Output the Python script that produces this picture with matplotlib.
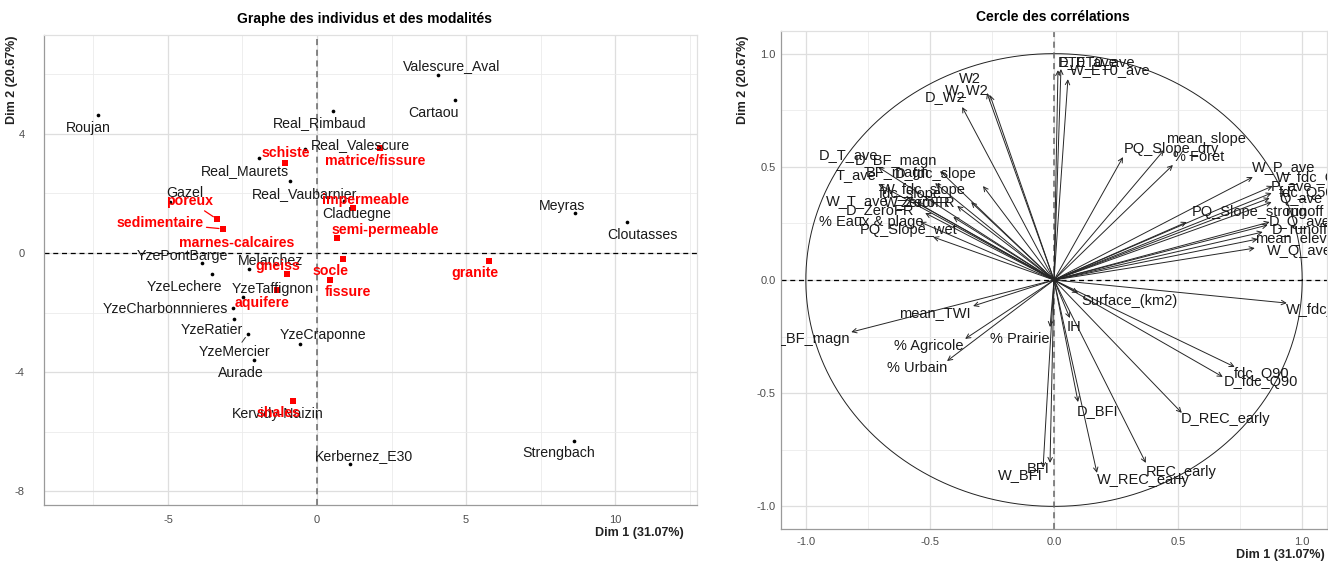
import numpy as np
import matplotlib.pyplot as plt

plt.rcParams['font.family'] = ['Liberation Sans', 'DejaVu Sans']
plt.rcParams['axes.unicode_minus'] = False

# --- individus (bassins) ---
ind_names = ['Roujan', 'Real_Rimbaud', 'Valescure_Aval', 'Cartaou', 'Real_Valescure',
             'Real_Maurets', 'Real_Vaubarnier', 'Gazel', 'Claduegne', 'Meyras',
             'Cloutasses', 'YzePontBarge', 'YzeLechere', 'Melarchez', 'YzeTaffignon',
             'YzeCharbonnnieres', 'YzeRatier', 'YzeMercier', 'Aurade', 'YzeCraponne',
             'Kervidy-Naizin', 'Kerbernez_E30', 'Strengbach']
ind_dim1 = [-7.35, 0.54, 4.06, 4.63, -0.40, -1.95, -0.91, -4.93, 0.91, 8.66,
            10.40, -3.86, -3.52, -2.28, -2.48, -2.82, -2.79, -2.32, -2.11, -0.57,
            -0.81, 1.11, 8.62]
ind_dim2 = [4.63, 4.77, 5.97, 5.13, 3.49, 3.19, 2.42, 1.71, 1.74, 1.34,
            1.04, -0.34, -0.70, -0.54, -1.48, -1.85, -2.21, -2.72, -3.59, -3.05,
            -4.97, -7.08, -6.31]

# --- modalites (variables qualitatives) ---
mod_names = ['schiste', 'matrice/fissure', 'poreux', 'sedimentaire', 'marnes-calcaires',
             'impermeable', 'semi-permeable', 'gneiss', 'aquifere', 'socle',
             'fissure', 'granite', 'shales']
mod_dim1 = [-1.07, 2.11, -3.36, -3.15, -3.15, 1.21, 0.67, -1.01, -1.34, 0.87,
            0.44, 5.77, -0.81]
mod_dim2 = [3.02, 3.52, 1.14, 0.81, 0.81, 1.51, 0.50, -0.70, -1.24, -0.20,
            -0.91, -0.27, -4.97]

# --- variables quantitatives (cercle) ---
var_names = ['ET0_ave', 'D_ET0_ave', 'W_ET0_ave', 'W2', 'W_W2', 'D_W2',
             'D_T_ave', 'T_ave', 'D_BF_magn', 'BF_magn', 'D_fdc_slope', 'W_fdc_slope',
             'fdc_slope', 'W_T_ave', 'ZeroFR', 'D_ZeroFR', 'W_ZeroFR', '% Eaux & plage',
             'PQ_Slope_wet', 'W_BF_magn', 'mean_TWI', '% Agricole', '% Urbain', '% Prairie',
             'BFI', 'W_BFI', 'IH', 'D_BFI', 'Surface_(km2)', 'W_fdc_Q90',
             'fdc_Q90', 'D_fdc_Q90', 'D_REC_early', 'REC_early', 'W_REC_early',
             'PQ_Slope_dry', 'mean_slope', '% Foret', 'W_P_ave', 'W_fdc_Q50',
             'P_ave', 'fdc_Q50', 'Q_ave', 'PQ_Slope_strong', 'runoff',
             'D_Q_ave', 'D_runoff', 'mean_elevation', 'W_Q_ave']
var_dim1 = [0.016, 0.028, 0.056, -0.270, -0.258, -0.370,
            -0.708, -0.708, -0.459, -0.479, -0.286, -0.334,
            -0.390, -0.592, -0.551, -0.519, -0.406, -0.539,
            -0.487, -0.817, -0.326, -0.358, -0.431, -0.016,
            -0.016, -0.044, 0.064, 0.097, 0.097, 0.938,
            0.728, 0.680, 0.515, 0.370, 0.173,
            0.278, 0.443, 0.479, 0.801, 0.881,
            0.877, 0.869, 0.877, 0.535, 0.869,
            0.861, 0.841, 0.821, 0.809]
var_dim2 = [0.927, 0.932, 0.887, 0.826, 0.817, 0.764,
            0.499, 0.424, 0.481, 0.428, 0.415, 0.344,
            0.327, 0.366, 0.340, 0.296, 0.278, 0.256,
            0.190, -0.230, -0.115, -0.260, -0.358, -0.208,
            -0.808, -0.830, -0.168, -0.539, -0.057, -0.102,
            -0.384, -0.428, -0.587, -0.808, -0.852,
            0.543, 0.574, 0.508, 0.455, 0.415,
            0.384, 0.362, 0.344, 0.256, 0.256,
            0.243, 0.212, 0.181, 0.141]

# decalage des etiquettes (pixels), facon ggrepel
ind_off = [(-10, -13), (-13, -12), (14, 9), (-21, -13), (55, 4),
           (-14, -13), (15, -13), (15, 9), (13, -13), (-13, 7),
           (15, -13), (-20, 7), (-28, -13), (22, 8), (30, 8),
           (-68, -1), (-22, -11), (-13, -18), (-13, -13), (23, 9),
           (-15, -13), (14, 8), (-15, -12)]
mod_off = [(1, 10), (-5, -13), (-27, 18), (-63, 6), (14, -14),
           (12, 8), (48, 8), (-9, 8), (-15, -13), (-12, -12),
           (18, -12), (-14, -12), (-14, -12)]
var_off = [(30, 8), (36, 7), (42, 9), (-17, 14), (-23, 5), (-17, 10),
           (-30, 12), (-22, 9), (-44, 10), (-38, 10), (-47, 12), (-48, 12),
           (-47, 12), (-50, -4), (8, 0), (-45, 3), (-33, 15), (-49, 0),
           (-25, 7), (-44, -7), (-38, -7), (-36, -7), (-30, -7), (-30, -12),
           (-12, -6), (-23, -7), (4, -9), (19, -9), (51, -8), (38, -7),
           (27, -7), (38, -5), (44, -6), (35, -9), (46, -7),
           (48, 8), (42, 11), (26, 8), (31, 10), (42, 8),
           (20, 7), (37, 5), (29, 3), (63, 10), (35, 10),
           (32, 3), (37, 3), (49, 1), (45, -3)]
with_segment = ['poreux', 'sedimentaire', 'YzeMercier']

W, H = 1328, 564
fig = plt.figure(figsize=(W / 100, H / 100), dpi=100)
grid_col = '#dedede'
tick_col = '#4d4d4d'


def style_axes(ax):
    for s in ['top', 'right']:
        ax.spines[s].set_color('#e0e0e0')
    for s in ['left', 'bottom']:
        ax.spines[s].set_color('#9a9a9a')
    for s in ax.spines.values():
        s.set_linewidth(0.9)
    ax.grid(which='major', color=grid_col, lw=0.9)
    ax.grid(which='minor', color='#ebebeb', lw=0.6)
    ax.set_axisbelow(True)
    ax.tick_params(which='both', length=0, labelsize=8, labelcolor=tick_col)


# ---------------- Graphe des individus ----------------
ax1 = fig.add_axes([44 / W, 1 - 505 / H, 653 / W, 470 / H])
ax1.set_xlim(-9.16, 12.75)
ax1.set_ylim(-8.46, 7.32)
ax1.set_xticks([-5, 0, 5, 10])
ax1.set_yticks([-8, -4, 0, 4])
ax1.set_xticks(np.arange(-7.5, 12.6, 2.5), minor=True)
ax1.set_yticks(np.arange(-8, 7.1, 2), minor=True)
style_axes(ax1)
ax1.tick_params(axis='y', pad=14)
ax1.tick_params(axis='x', pad=7)
ax1.axhline(0, color='black', ls='--', lw=0.9, dashes=(4, 3))
ax1.axvline(0, color='#666666', ls='--', lw=1.1, dashes=(4, 3))

ax1.scatter(ind_dim1, ind_dim2, s=7, c='black', zorder=3, linewidths=0)
ax1.scatter(mod_dim1, mod_dim2, s=20, c='red', marker='s', zorder=3, linewidths=0)

for name, x, y, off in zip(ind_names, ind_dim1, ind_dim2, ind_off):
    ap = None
    if name in with_segment:
        ap = dict(arrowstyle='-', color='#333333', lw=0.7, shrinkA=0, shrinkB=3)
    ax1.annotate(name, xy=(x, y), xytext=off, textcoords='offset pixels',
                 ha='center', va='center', fontsize=10.2, color='#1a1a1a',
                 arrowprops=ap, zorder=4)
for name, x, y, off in zip(mod_names, mod_dim1, mod_dim2, mod_off):
    ap = None
    if name in with_segment:
        ap = dict(arrowstyle='-', color='red', lw=0.9, shrinkA=0, shrinkB=3)
    ax1.annotate(name, xy=(x, y), xytext=off, textcoords='offset pixels',
                 ha='center', va='center', fontsize=10.2, color='red',
                 fontweight='bold', arrowprops=ap, zorder=4)

fig.text(365 / W, 1 - 19 / H, 'Graphe des individus et des modalités',
         ha='center', va='center', fontsize=10, fontweight='bold')
fig.text(684 / W, 1 - 533 / H, 'Dim 1 (31.07%)', ha='right', va='center',
         fontsize=9, fontweight='bold', color='#222222')
fig.text(12 / W, 1 - 35 / H, 'Dim 2 (20.67%)', ha='center', va='top',
         rotation=90, fontsize=9, fontweight='bold', color='#222222')

# ---------------- Cercle des correlations ----------------
ax2 = fig.add_axes([781 / W, 1 - 529 / H, 546 / W, 498 / H])
ax2.set_xlim(-1.1, 1.1)
ax2.set_ylim(-1.1, 1.1)
ticks = [-1.0, -0.5, 0.0, 0.5, 1.0]
ax2.set_xticks(ticks)
ax2.set_yticks(ticks)
ax2.set_xticklabels(['%.1f' % t for t in ticks])
ax2.set_yticklabels(['%.1f' % t for t in ticks])
ax2.set_xticks(np.arange(-1.0, 1.01, 0.25), minor=True)
ax2.set_yticks(np.arange(-1.0, 1.01, 0.25), minor=True)
style_axes(ax2)
ax2.tick_params(axis='y', pad=4)
ax2.tick_params(axis='x', pad=6)

t = np.linspace(0, 2 * np.pi, 400)
ax2.plot(np.cos(t), np.sin(t), color='#222222', lw=0.7)
ax2.axhline(0, color='black', ls='--', lw=0.9, dashes=(4, 3))
ax2.axvline(0, color='#666666', ls='--', lw=1.1, dashes=(4, 3))

for name, x, y, off in zip(var_names, var_dim1, var_dim2, var_off):
    ax2.annotate('', xy=(x, y), xytext=(0, 0),
                 arrowprops=dict(arrowstyle='->', color='#262626', lw=0.7,
                                 shrinkA=0, shrinkB=0, mutation_scale=8))
    txt = ax2.annotate(name, xy=(x, y), xytext=off, textcoords='offset pixels',
                       ha='center', va='center', fontsize=10.5, color='#1a1a1a',
                       annotation_clip=False)
    txt.set_clip_on(True)
    txt.set_clip_box(ax2.bbox)

fig.text(1053 / W, 1 - 17 / H, 'Cercle des corrélations',
         ha='center', va='center', fontsize=10, fontweight='bold')
fig.text(1325 / W, 1 - 555 / H, 'Dim 1 (31.07%)', ha='right', va='center',
         fontsize=9, fontweight='bold', color='#222222')
fig.text(743 / W, 1 - 35 / H, 'Dim 2 (20.67%)', ha='center', va='top',
         rotation=90, fontsize=9, fontweight='bold', color='#222222')

fig.savefig('out.png', dpi=100)
